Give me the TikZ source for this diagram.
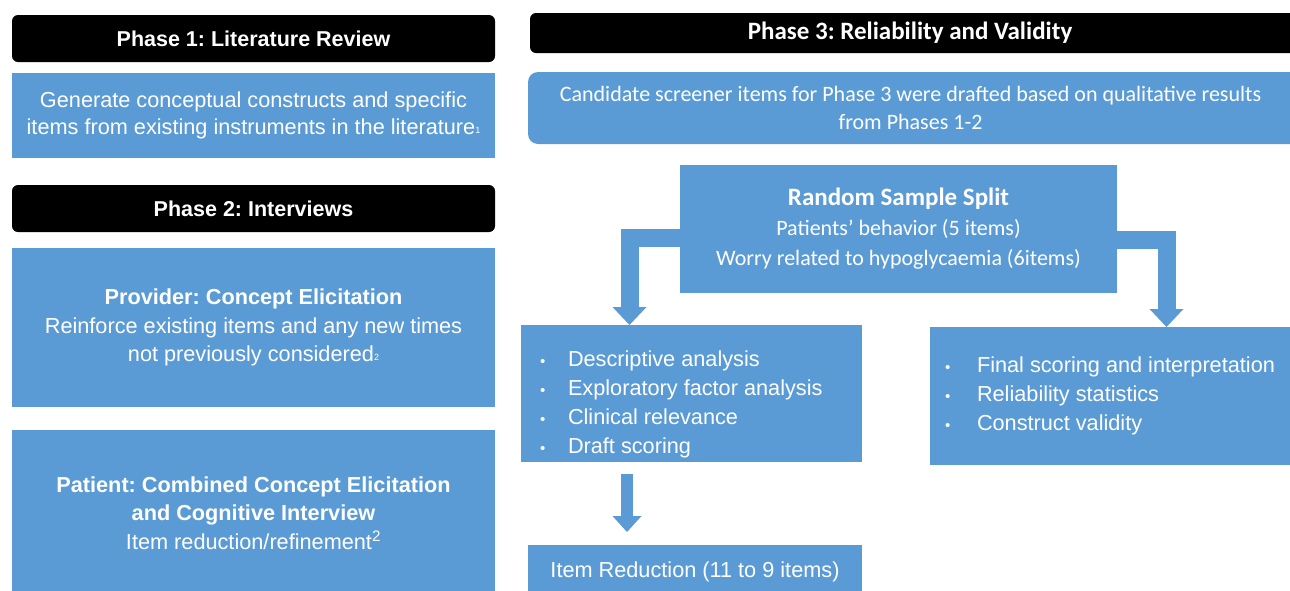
\documentclass[tikz,border=0pt]{standalone}
\usepackage{fontspec}
\setmainfont{Liberation Sans}
\newfontfamily\calfont{Carlito}
\usetikzlibrary{arrows.meta}
\definecolor{obl}{RGB}{91,155,213}
\newcommand\bul{{\fontsize{15}{15}\selectfont\textbullet}}
\newcommand\tinysup[1]{{\fontsize{9}{9}\selectfont\raisebox{1pt}{#1}}}
\frenchspacing
\begin{document}
\begin{tikzpicture}[x=1pt,y=-1pt,
  hdr/.style={fill=black, rounded corners=6pt, text=white, inner sep=0pt,
    font=\frenchspacing\fontsize{21.5}{26}\selectfont\bfseries},
  hdrc/.style={fill=black, rounded corners=6pt, text=white, inner sep=0pt,
    font=\frenchspacing\calfont\fontsize{25}{28}\selectfont\bfseries},
  bx/.style={fill=obl, text=white, inner sep=0pt, align=center,
    font=\frenchspacing\fontsize{21.7}{27}\selectfont},
  bxc/.style={fill=obl, text=white, inner sep=0pt, align=center,
    font=\frenchspacing\calfont\fontsize{22}{28}\selectfont},
  blk/.style={draw=obl, line width=18pt, line join=miter,
    -{Triangle[length=18pt 0 0, width=34pt 0 0, line width=0pt, fill=obl]}},
  blks/.style={draw=obl, line width=12pt,
    -{Triangle[length=16pt 0 0, width=29pt 0 0, line width=0pt, fill=obl]}}
]
\useasboundingbox (0,0) rectangle (1290,590);
\clip (0,0) rectangle (1290,590);

% left column
\node[hdr, minimum width=483, minimum height=47] (p1) at (253.5,38.5) {Phase 1: Literature Review};
\node[bx, minimum width=483, minimum height=85] (lit) at (253.5,115.5)
  {Generate conceptual constructs and specific\\items from existing instruments in the literature\tinysup{1}};
\node[hdr, minimum width=483, minimum height=47] (p2) at (253.5,208.5) {Phase 2: Interviews};
\node[bx, minimum width=483, minimum height=159, font=\frenchspacing\fontsize{21.7}{28.5}\selectfont] (prov) at (253.5,327.5)
  {\textbf{Provider: Concept Elicitation}\\Reinforce existing items and any new times\\not previously considered\tinysup{2}};
\node[bx, minimum width=483, minimum height=166, font=\frenchspacing\fontsize{21.7}{28.5}\selectfont] (pat) at (253.5,513)
  {\textbf{Patient: Combined Concept Elicitation}\\\textbf{and Cognitive Interview}\\Item reduction/refinement\textsuperscript{2}};

% right column
\node[hdrc, minimum width=770, minimum height=40] (p3) at (915,33) {Phase 3: Reliability and Validity\hspace*{10pt}};
\node[bxc, rounded corners=10pt, minimum width=772, minimum height=72] (cand) at (914,108)
  {Candidate screener items for Phase 3 were drafted based on qualitative results\hspace*{7pt}\\from Phases 1-2\hspace*{7pt}};
\node[bxc, minimum width=437, minimum height=128, font=\frenchspacing\calfont\fontsize{22}{30}\selectfont] (rand) at (898.5,229)
  {{\fontsize{25}{30}\selectfont\bfseries Random Sample Split}\\Patients’ behavior (5 items)\\Worry related to hypoglycaemia (6items)};

\node[bx, minimum width=341, minimum height=137] (desc) at (691.5,393.5)
  {\begin{minipage}[c][137pt][c]{341pt}\vspace{21pt}\raggedright
   \fontsize{21.7}{29}\selectfont
   \hspace*{19pt}\makebox[28pt][l]{\bul}Descriptive analysis\\
   \hspace*{19pt}\makebox[28pt][l]{\bul}Exploratory factor analysis\\
   \hspace*{19pt}\makebox[28pt][l]{\bul}Clinical relevance\\
   \hspace*{19pt}\makebox[28pt][l]{\bul}Draft scoring
   \end{minipage}};
\node[bx, minimum width=360, minimum height=138] (fin) at (1110,396)
  {\begin{minipage}[c][138pt][c]{360pt}\raggedright
   \fontsize{21.7}{29}\selectfont
   \hspace*{15pt}\makebox[32pt][l]{\bul}Final scoring and interpretation\\
   \hspace*{15pt}\makebox[32pt][l]{\bul}Reliability statistics\\
   \hspace*{15pt}\makebox[32pt][l]{\bul}Construct validity
   \end{minipage}};
\node[bx, minimum width=334, minimum height=54] (red) at (695,572) {Item Reduction (11 to 9 items)};

% arrows
\coordinate (la) at (629.5,325);
\coordinate (ra) at (1166.5,327);
\coordinate (d1) at (627,474);
\coordinate (d2) at (627,532);
\draw[blk] ([yshift=-8.5pt]rand.west) -| (la);
\draw[blk] ([yshift=-10.5pt]rand.east) -| (ra);
\draw[blks] (d1) -- (d2);
\end{tikzpicture}
\end{document}
